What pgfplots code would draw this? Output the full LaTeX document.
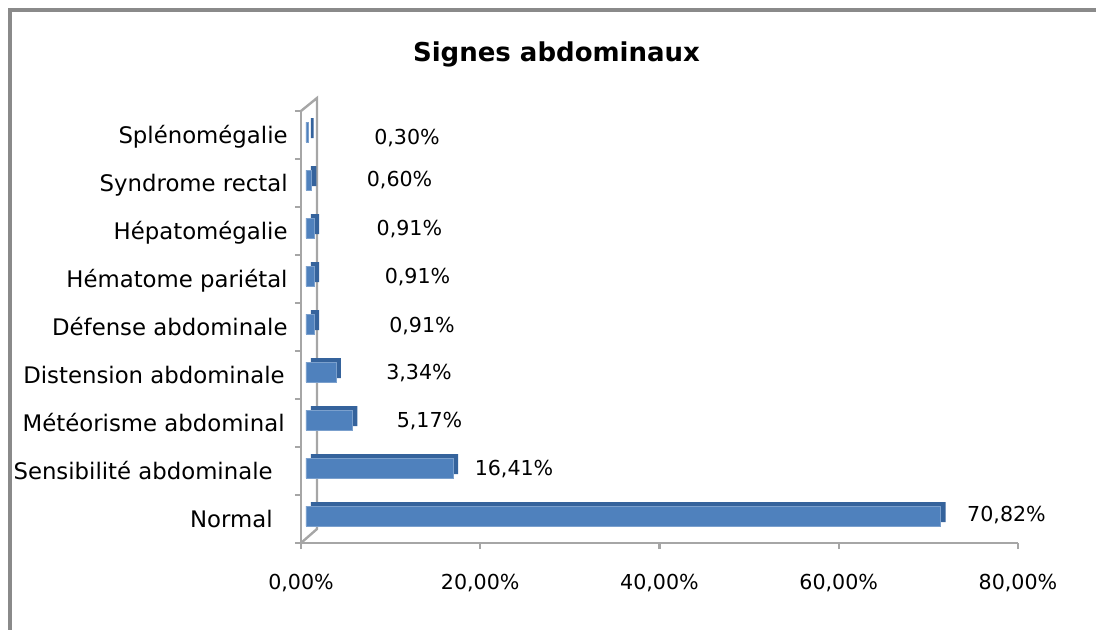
\documentclass[border=0pt]{standalone}
\usepackage{fontspec}
\setmainfont{DejaVu Sans}
\usepackage{pgfplots}
\pgfplotsset{compat=1.18}

\definecolor{barfront}{HTML}{4F81BD}
\definecolor{barside}{HTML}{35639C}
\definecolor{axisgray}{HTML}{A6A6A6}
\definecolor{framegray}{HTML}{8A8A8A}

\begin{document}
\begin{tikzpicture}
\useasboundingbox (-150.5bp,-43.5bp) rectangle (397.5bp,271.5bp);
% frame (only left and top edges are visible)
\draw[framegray, line width=2bp] (-145.5bp,-60bp) -- (-145.5bp,266.25bp) -- (420bp,266.25bp);
\begin{axis}[
  at={(0,0)}, anchor=south west,
  scale only axis, width=358.5bp, height=216bp,
  xmin=0, xmax=80, ymin=-0.5, ymax=8.5,
  clip=false,
  axis x line*=bottom, axis y line*=left,
  axis line style={-, axisgray, line width=1.2bp},
  xtick={0,20,...,80},
  ytick={0,...,8},
  yticklabels={Normal\rule{7.5bp}{0pt}, Sensibilité abdominale\rule{7.5bp}{0pt}, Météorisme abdominal\rule{1.5bp}{0pt}, Distension abdominale\rule{1.5bp}{0pt}, Défense abdominale, Hématome pariétal, Hépatomégalie, Syndrome rectal, Splénomégalie},
  minor ytick={-0.5,0.5,...,8.5},
  tick align=outside,
  major tick length=3bp, minor tick length=3bp,
  every major y tick/.append style={draw=none},
  tick style={axisgray, line width=1.2bp},
  /pgf/number format/assume math mode=true,
  xticklabel={\pgfmathprintnumber[fixed,fixed zerofill,precision=2,use comma]{\tick}\%},
  xticklabel style={font=\fontsize{10.3bp}{12bp}\selectfont, anchor=base, yshift=-20bp, inner sep=0pt},
  yticklabel style={font=\fontsize{11.4bp}{13bp}\selectfont, anchor=base east, xshift=-3.5bp, yshift=-4.1bp, inner sep=0pt},
]
  % 3D wall edges
  \draw[axisgray, line width=1.2bp] (axis cs:0,-0.5) -- ++(8bp,7bp) -- ([shift={(8bp,6.5bp)}]axis cs:0,8.5) -- (axis cs:0,8.5);

  % bar depth (top and side faces)
  \addplot[xbar, bar shift=0pt, bar width=10bp, fill=barside, draw=none, xshift=5bp, yshift=3.5bp]
    coordinates {(70.82,0) (16.41,1) (5.17,2) (3.34,3) (0.91,4) (0.91,5) (0.91,6) (0.60,7) (0.30,8)};
  % bar front faces
  \addplot[xbar, bar shift=0pt, bar width=10bp, fill=barfront, draw=barfront!75!white, line width=0.3bp, xshift=2.5bp, yshift=1.5bp]
    coordinates {(70.82,0) (16.41,1) (5.17,2) (3.34,3) (0.91,4) (0.91,5) (0.91,6) (0.60,7) (0.30,8)};

  % value labels, at the places where the chart put them
  \addplot[draw=none, point meta=explicit,
    nodes near coords={\pgfmathprintnumber[fixed,fixed zerofill,precision=2,use comma]{\pgfplotspointmeta}\%},
    nodes near coords style={anchor=base, yshift=-3.8bp, inner sep=0pt, font=\fontsize{10.3bp}{12bp}\selectfont}]
    coordinates {(78.72,0.10) [70.82] (23.77,1.06) [16.41] (14.34,2.06) [5.17] (13.17,3.06) [3.34]
                 (13.5,4.04) [0.91] (13.0,5.06) [0.91] (12.1,6.07) [0.91] (11.0,7.08) [0.60] (11.83,7.97) [0.30]};
\end{axis}
\node[font=\bfseries\fontsize{13bp}{15bp}\selectfont, anchor=base, inner sep=0pt] at (127.75bp,240.5bp) {Signes abdominaux};
\end{tikzpicture}
\end{document}
